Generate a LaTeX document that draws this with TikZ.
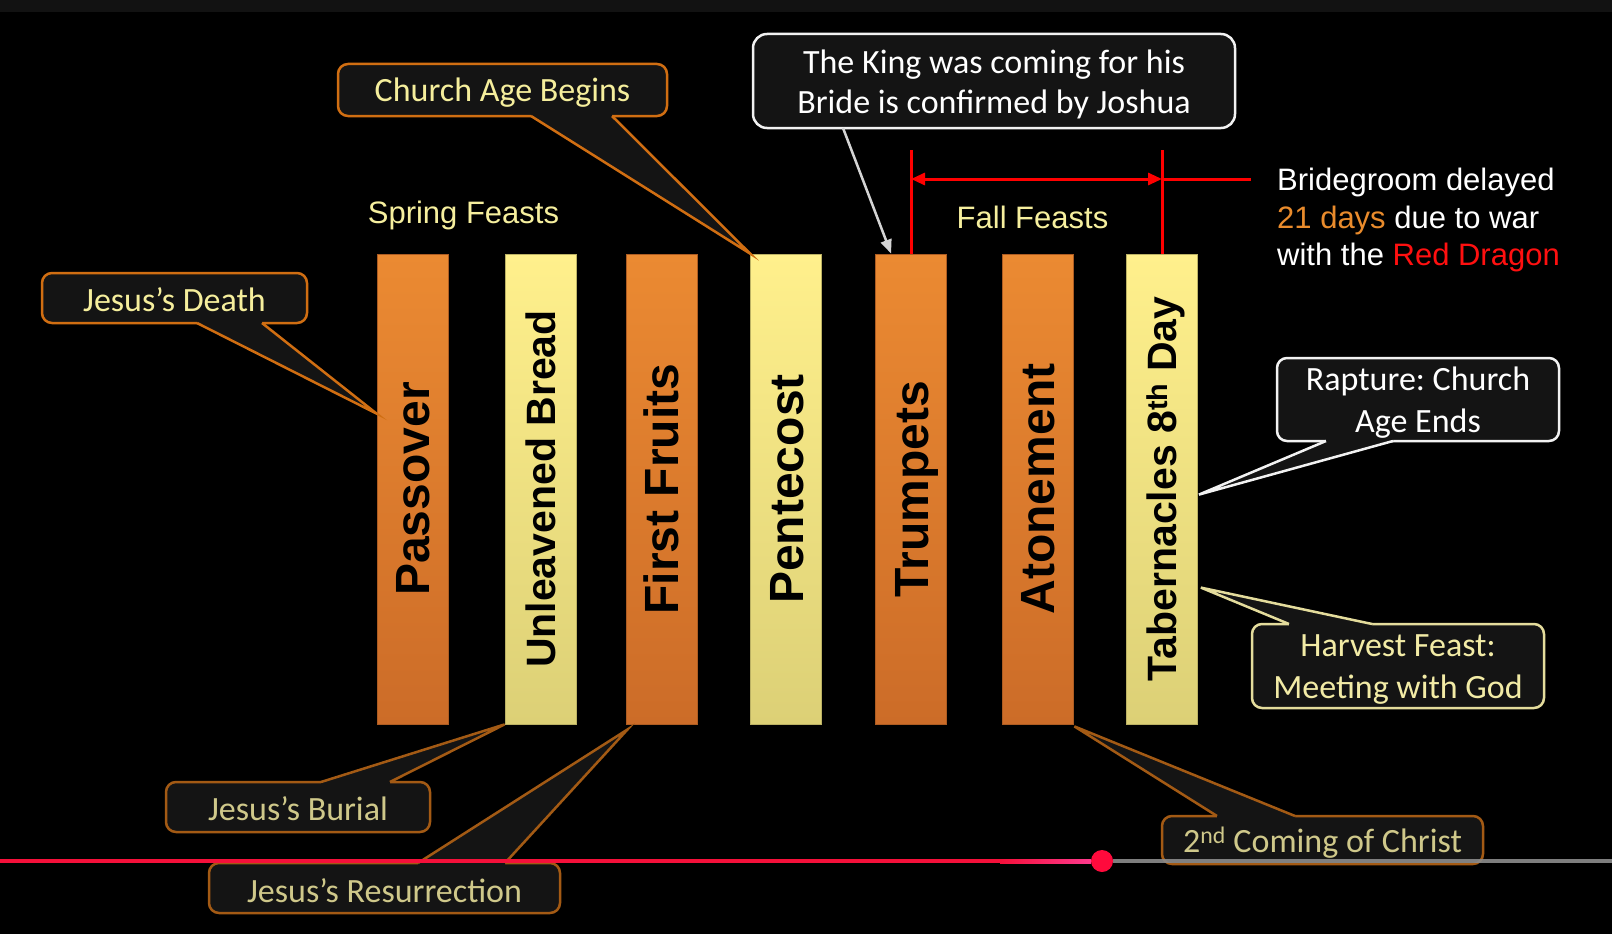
\documentclass[tikz,border=0pt]{standalone}
\usepackage{fontspec}
\usetikzlibrary{arrows.meta,calc}
\newfontfamily\calfont{Carlito}
\newfontfamily\arialfont{Liberation Sans}
\frenchspacing
\definecolor{topbar}{HTML}{121212}
\definecolor{boxfill}{HTML}{141414}
\definecolor{orTop}{HTML}{EB8A32}
\definecolor{orBot}{HTML}{CC6C28}
\definecolor{yeTop}{HTML}{FFF08C}
\definecolor{yeBot}{HTML}{DCD076}
\definecolor{calloutText}{HTML}{F5EE9C}
\definecolor{mutedText}{HTML}{CFC88A}
\definecolor{orBorder}{HTML}{D06E12}
\definecolor{mutedBorder}{HTML}{A35A14}
\definecolor{harvBorder}{HTML}{E4DC9C}
\definecolor{harvText}{HTML}{F2EBA6}
\definecolor{feastText}{HTML}{F6EF9E}
\definecolor{daysOrange}{HTML}{E98B2C}
\definecolor{dragonRed}{HTML}{FF1010}
\definecolor{fallRed}{HTML}{FF0000}
\definecolor{tlRed}{HTML}{F5103A}
\definecolor{tlPink}{HTML}{FF3A8E}
\definecolor{tlGrey}{HTML}{8C8C8C}
\definecolor{tlDot}{HTML}{FF0A3C}
\definecolor{kingArrow}{HTML}{D4D4D4}
\definecolor{whiteBorder}{HTML}{F2F2F2}

\newcommand{\calloutptr}[7]{%
  \coordinate (#1-a) at (#1.#2 -| #3,0);
  \coordinate (#1-b) at (#1.#2 -| #4,0);
  \coordinate (#1-tip) at #5;
  \fill[boxfill] ($(#1-a)+(0,#7)$) -- (#1-a) -- (#1-tip) -- (#1-b) -- ($(#1-b)+(0,#7)$) -- cycle;
  \draw[#6, line width=2.5pt] (#1-a) -- (#1-tip) -- (#1-b);
}
\newcommand{\lowtext}[2][3pt]{\raisebox{-#1}[\height][\depth]{#2}}

\tikzset{
  orbar/.style={rectangle, minimum width=71pt, minimum height=470pt, inner sep=0pt,
    top color=orTop, bottom color=orBot, draw=orBot!85!black, line width=0.8pt},
  yebar/.style={rectangle, minimum width=71pt, minimum height=470pt, inner sep=0pt,
    top color=yeTop, bottom color=yeBot, draw=yeBot!85!black, line width=0.8pt},
  barlabel/.style={rotate=90, inner sep=0pt, text=black,
    font={\arialfont\bfseries\fontsize{48pt}{48pt}\selectfont}, text height=34pt, text depth=0pt},
  barlabelsmall/.style={rotate=90, inner sep=0pt, text=black,
    font={\arialfont\bfseries\fontsize{41pt}{41pt}\selectfont}, text height=29pt, text depth=0pt},
  feast/.style={inner sep=0pt, text=feastText, font={\arialfont\fontsize{31pt}{36pt}\selectfont}},
  bgtext/.style={inner sep=0pt, text=white, font={\arialfont\fontsize{31pt}{36pt}\selectfont}},
  callout/.style={rectangle, rounded corners=10pt, fill=boxfill, line width=2.5pt,
    inner sep=0pt, outer sep=0pt, align=center,
    font={\calfont\fontsize{34pt}{40pt}\selectfont}},
}

\begin{document}
\begin{tikzpicture}[x=1pt,y=-1pt]
\useasboundingbox (0,0) rectangle (1612,934);
\fill[black] (0,0) rectangle (1612,934);
\fill[topbar] (0,0) rectangle (1612,12);

% bars
\node[orbar] (passover) at (412.5,489) {};
\node[yebar] (unleavened) at (540.5,489) {};
\node[orbar] (firstfruits) at (661.5,489) {};
\node[yebar] (pentecost) at (786,489) {};
\node[orbar] (trumpets) at (911,489) {};
\node[orbar] (atonement) at (1037.5,489) {};
\node[yebar] (tabernacles) at (1162,489) {};

\node[barlabel] (lpassover) at (passover.center) {Passover};
\node[barlabelsmall] (lunleavened) at (unleavened.center) {Unleavened Bread};
\node[barlabel] (lfirstfruits) at (firstfruits.center) {First Fruits};
\node[barlabel] (lpentecost) at (pentecost.center) {Pentecost};
\node[barlabel] (ltrumpets) at (trumpets.center) {Trumpets};
\node[barlabel] (latonement) at (atonement.center) {Atonement};
\node[barlabelsmall] (ltabernacles) at (tabernacles.center) {Tabernacles 8\textsuperscript{th} Day};

% feast titles
\node[feast, anchor=base] (spring) at (463.5,223) {Spring Feasts};
\node[feast, anchor=base] (fall) at (1032.5,228) {Fall Feasts};

% fall feasts bracket
\coordinate (trTop) at (911,150);
\coordinate (tbTop) at (1162,150);
\coordinate (hL) at (911,179);
\coordinate (hM) at (1162,179);
\coordinate (hR) at (1251,179);
\draw[fallRed, line width=3pt] (trTop) -- (trumpets.north);
\draw[fallRed, line width=3pt] (tbTop) -- (tabernacles.north);
\draw[fallRed, line width=3pt, {Triangle[length=14pt,width=12pt]}-{Triangle[length=14pt,width=12pt]}] (hL) -- (hM);
\draw[fallRed, line width=3pt] (hM) -- (hR);

% bridegroom text
\node[bgtext, anchor=base west] (bg1) at (1277,190) {Bridegroom delayed};
\node[bgtext, anchor=base west] (bg2) at (1277,228) {\textcolor{daysOrange}{21 days} due to war};
\node[bgtext, anchor=base west] (bg3) at (1277,265) {with the \textcolor{dragonRed}{Red Dragon}};

% callouts
\node[callout, draw=orBorder, text=calloutText, minimum width=329pt, minimum height=52pt] (cab) at (502.5,90) {\lowtext{Church Age Begins}};
\calloutptr{cab}{south}{531}{612}{(pentecost.north west)}{orBorder}{-3}

\node[callout, draw=orBorder, text=calloutText, minimum width=265pt, minimum height=50pt] (jd) at (174.5,298) {\lowtext[1.5pt]{Jesus’s Death}};
\calloutptr{jd}{south}{197}{262}{($(passover.north west)+(0,160)$)}{orBorder}{-3}

\node[callout, rounded corners=14pt, draw=whiteBorder, text=white, minimum width=482pt, minimum height=94pt] (king) at (994,81) {\lowtext{The King was coming for his}\\\lowtext{Bride is confirmed by Joshua}};
\draw[kingArrow, line width=2.5pt, -{Triangle[length=14pt,width=11pt]}] (king.south -| 843,0) -- ([xshift=16pt]trumpets.north west);

\node[callout, draw=whiteBorder, text=white, minimum width=282pt, minimum height=83pt,
  font={\calfont\fontsize{34pt}{42pt}\selectfont}] (rap) at (1418,399.5) {\lowtext{Rapture: Church}\\\lowtext{Age Ends}};
\calloutptr{rap}{south}{1326}{1393}{($(tabernacles.north east)+(1,241)$)}{whiteBorder}{-3}

\node[callout, draw=harvBorder, text=harvText, minimum width=292pt, minimum height=84pt,
  font={\calfont\fontsize{34pt}{42pt}\selectfont}] (hv) at (1398,666) {\lowtext[4pt]{Harvest Feast:}\\\lowtext[4pt]{Meeting with God}};
\calloutptr{hv}{north}{1289}{1372}{($(tabernacles.north east)+(3,334)$)}{harvBorder}{3}

\node[callout, draw=mutedBorder, text=mutedText, minimum width=264pt, minimum height=50pt] (jb) at (298,807) {\lowtext[2pt]{Jesus’s Burial}};
\calloutptr{jb}{north}{321}{390}{(unleavened.south west)}{mutedBorder}{3}

\node[callout, draw=mutedBorder, text=mutedText, minimum width=351pt, minimum height=50pt] (jr) at (384.5,888) {\lowtext{Jesus’s Resurrection}};
\calloutptr{jr}{north}{418}{505}{($(firstfruits.south west)+(2,5)$)}{mutedBorder}{3}

\node[callout, draw=mutedBorder, text=mutedText, minimum width=321pt, minimum height=48pt] (sc) at (1322.5,840) {\lowtext{2\textsuperscript{nd} Coming of Christ}};
\calloutptr{sc}{north}{1217}{1295}{($(atonement.south east)+(1,2)$)}{mutedBorder}{3}

% timeline
\coordinate (tlStart) at (0,861);
\coordinate (tlEnd) at (1612,861);
\node[circle, fill=tlDot, minimum size=22pt, inner sep=0pt] (dot) at (1102,861) {};
\draw[tlRed, line width=4pt] (tlStart) -- (dot);
\shade[left color=tlRed, right color=tlPink] (1000,859) rectangle (1091,863);
\draw[tlGrey, line width=4pt, opacity=0.9] (dot) -- (tlEnd);
\end{tikzpicture}
\end{document}
